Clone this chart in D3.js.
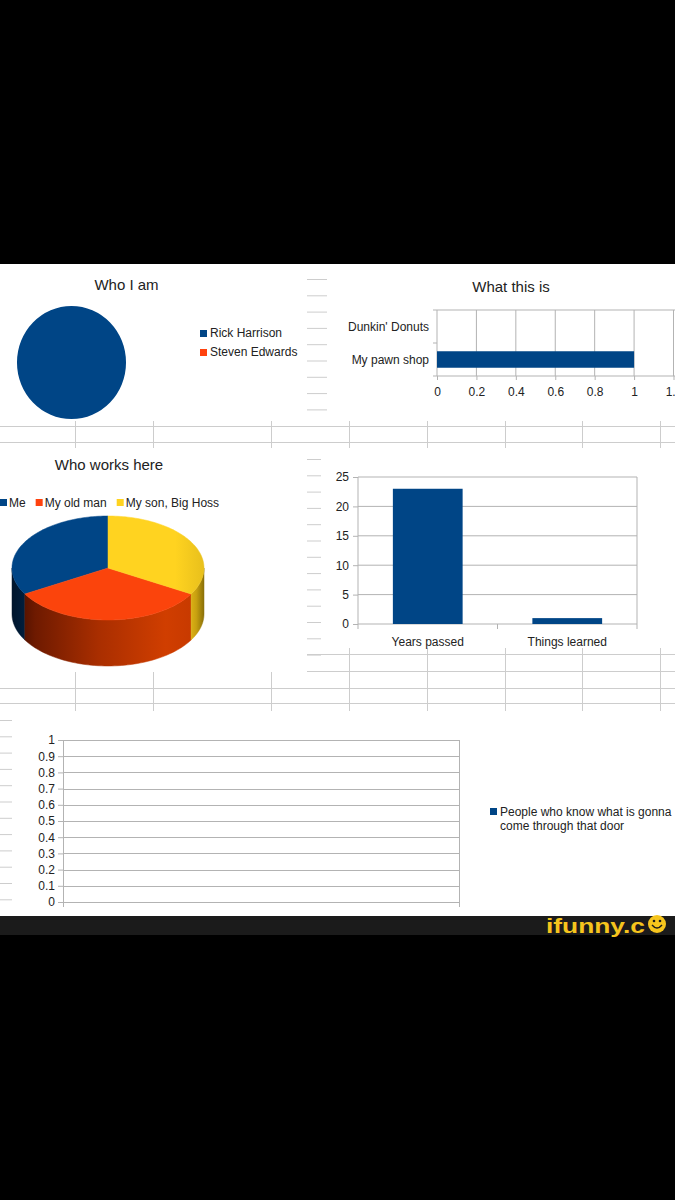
<!DOCTYPE html>
<html><head><meta charset="utf-8">
<script src="https://cdn.jsdelivr.net/npm/d3@7"></script>
<style>
body{margin:0;background:#000;}
svg{display:block;}
text{font-family:"Liberation Sans",Arial,sans-serif;fill:#222;}
</style>
</head><body>
<svg id="c" width="675" height="1200"></svg>
<script>
// ---------- data ----------
const whoTitle = "Who I am";
const whoCategories = ["Rick Harrison", "Steven Edwards"];
const whoValues = [1, 0];

const whatTitle = "What this is";
const whatCategories = ["Dunkin' Donuts", "My pawn shop"];
const whatValues = [0, 1];
const whatTicks = [0, 0.2, 0.4, 0.6, 0.8, 1, 1.2];

const worksTitle = "Who works here";
const worksCategories = ["Me", "My old man", "My son, Big Hoss"];
const worksValues = [1, 1, 1];

const barCategories = ["Years passed", "Things learned"];
const barValues = [23, 1];
const barTicks = [0, 5, 10, 15, 20, 25];

const doorSeries = ["People who know what is gonna come through that door"];
const doorValues = [];
const doorTicks = [0, 0.1, 0.2, 0.3, 0.4, 0.5, 0.6, 0.7, 0.8, 0.9, 1];

const palette = ["#004586", "#ff420e", "#ffd320"];

// ---------- setup ----------
const svg = d3.select("#c");
const W = 675;
const GRID = "#b3b3b3", SHEET = "#cdcdcd";
const fmt = d => d3.format("~g")(d);

svg.append("rect").attr("x",0).attr("y",0).attr("width",W).attr("height",1200).attr("fill","#000");
svg.append("rect").attr("x",0).attr("y",264).attr("width",W).attr("height",652).attr("fill","#fff");
svg.append("rect").attr("x",0).attr("y",916).attr("width",W).attr("height",19).attr("fill","#1b1b1b");

// ---------- spreadsheet background lines ----------
const sheet = svg.append("g").attr("stroke", SHEET).attr("stroke-width", 1).attr("fill","none");
function hline(y, x0, x1){ sheet.append("line").attr("x1",x0).attr("x2",x1).attr("y1",y+0.5).attr("y2",y+0.5); }
function vline(x, y0, y1){ sheet.append("line").attr("x1",x+0.5).attr("x2",x+0.5).attr("y1",y0).attr("y2",y1); }
[426, 442].forEach(y => hline(y, 0, W));
[75,153,271,349,427,505,582,660].forEach(x => vline(x, 421, 448));
[654, 671].forEach(y => hline(y, 307, W));
[688, 703].forEach(y => hline(y, 0, W));
[349,427,505,582,660].forEach(x => vline(x, 648, 711));
[75,153,271].forEach(x => vline(x, 672, 711));
d3.range(9).forEach(i => hline(279 + i*16.3, 307, 327));
d3.range(13).forEach(i => hline(459 + i*16.3, 307, 321));
d3.range(12).forEach(i => hline(720 + i*16.3, 0, 12));

// ---------- chart 1: Who I am ----------
svg.append("text").attr("x",126.5).attr("y",290).attr("text-anchor","middle")
  .attr("font-size",15).text(whoTitle);
const pie1 = d3.pie().sort(null)(whoValues);
const arc1 = d3.arc().innerRadius(0).outerRadius(54.5);
svg.append("g").attr("transform","translate(71.5,362.5) scale(1,1.037)")
  .selectAll("path").data(pie1).join("path")
  .attr("d", arc1).attr("fill", (d,i) => palette[i]);
const leg1 = svg.append("g");
whoCategories.forEach((c,i) => {
  leg1.append("rect").attr("x",200).attr("y",330+i*19).attr("width",7).attr("height",7).attr("fill",palette[i]);
  leg1.append("text").attr("x",210).attr("y",337+i*19).attr("font-size",12).text(c);
});

// ---------- chart 2: What this is ----------
svg.append("text").attr("x",511).attr("y",292).attr("text-anchor","middle")
  .attr("font-size",15).text(whatTitle);
const x2 = d3.scaleLinear().domain([0,1.2]).range([437,673.5]);
const y2 = d3.scaleBand().domain(whatCategories).range([310,376]);
const g2 = svg.append("g");
g2.append("g").selectAll("line").data(whatTicks).join("line")
  .attr("x1",d=>x2(d)).attr("x2",d=>x2(d)).attr("y1",310).attr("y2",376)
  .attr("stroke",GRID);
g2.append("line").attr("x1",437).attr("x2",W).attr("y1",310).attr("y2",310).attr("stroke",GRID);
g2.append("line").attr("x1",437).attr("x2",W).attr("y1",376).attr("y2",376).attr("stroke",GRID);
g2.selectAll("rect.bar").data(whatCategories).join("rect").attr("class","bar")
  .attr("x", x2(0)).attr("y", d => y2(d) + y2.bandwidth()*0.25)
  .attr("width", (d,i) => x2(whatValues[i]) - x2(0)).attr("height", y2.bandwidth()*0.5)
  .attr("fill", palette[0]);
const ax2 = g2.append("g").attr("transform","translate(0,376)")
  .call(d3.axisBottom(x2).tickValues(whatTicks).tickFormat(fmt).tickSize(4).tickPadding(7));
ax2.select(".domain").remove();
ax2.selectAll("line").attr("stroke",GRID);
ax2.selectAll("text").attr("font-size",12).attr("font-family",null).attr("fill","#222");
// category ticks and labels
[310, 310 + y2.bandwidth(), 376].forEach(y => g2.append("line").attr("x1",433).attr("x2",437).attr("y1",y).attr("y2",y).attr("stroke",GRID));
g2.selectAll("text.cat").data(whatCategories).join("text").attr("class","cat")
  .attr("x",429).attr("y", d => y2(d) + y2.bandwidth()/2).attr("dy","0.35em")
  .attr("text-anchor","end").attr("font-size",12).text(d => d);

// ---------- chart 3: Who works here (3D pie) ----------
svg.append("text").attr("x",109).attr("y",470).attr("text-anchor","middle")
  .attr("font-size",15).text(worksTitle);
const leg3 = svg.append("g");
let lx = 0;
worksCategories.forEach((c,i) => {
  leg3.append("rect").attr("x",lx).attr("y",499).attr("width",7).attr("height",7).attr("fill",palette[i]);
  const t = leg3.append("text").attr("x",lx+9).attr("y",507).attr("font-size",12).text(c);
  lx = lx + 9 + t.node().getComputedTextLength() + 10;
});

const defs = svg.append("defs");
function grad(id, stops){
  const g = defs.append("linearGradient").attr("id",id).attr("gradientUnits","userSpaceOnUse")
    .attr("x1",12).attr("x2",204).attr("y1",0).attr("y2",0);
  stops.forEach(s => g.append("stop").attr("offset",s[0]).attr("stop-color",s[1]));
}
grad("side0", [[0,"#00152c"],[0.1,"#002447"],[1,"#003a70"]]);
grad("side1", [[0,"#3d0c00"],[0.12,"#6e1a00"],[0.45,"#a92e00"],[0.8,"#d03e00"],[0.93,"#c83a00"],[1,"#9a2c00"]]);
grad("side2", [[0,"#b89a10"],[0.9,"#f0c418"],[0.96,"#c8a010"],[1,"#8a7008"]]);
grad("top2", [[0,"#ffd320"],[0.85,"#ffd320"],[1,"#e8c01c"]]);

const pcx = 108, pcy = 568, prx = 96, pry = 52, depth = 46;
const pie3 = d3.pie().sort(null).startAngle(0).endAngle(-2*Math.PI)(worksValues);
const pt = (a, dy) => [pcx + prx*Math.sin(a), pcy - pry*Math.cos(a) + (dy||0)];
const line = d3.line();
const g3 = svg.append("g");
// sides
pie3.forEach((d,i) => {
  const lo = Math.min(d.startAngle, d.endAngle), hi = Math.max(d.startAngle, d.endAngle);
  for (let k = -2; k <= 1; k++) {
    const s = Math.max(lo, Math.PI/2 + 2*Math.PI*k), e = Math.min(hi, 3*Math.PI/2 + 2*Math.PI*k);
    if (e - s > 1e-6) {
      const n = 60, angs = d3.range(n+1).map(j => s + (e-s)*j/n);
      const pts = angs.map(a => pt(a)).concat(angs.slice().reverse().map(a => pt(a, depth)));
      g3.append("path").attr("d", line(pts) + "Z").attr("fill", `url(#side${i})`)
        .attr("stroke", `url(#side${i})`).attr("stroke-width",0.5);
    }
  }
});
// top faces
pie3.forEach((d,i) => {
  const n = 80, angs = d3.range(n+1).map(j => d.startAngle + (d.endAngle-d.startAngle)*j/n);
  const pts = [[pcx,pcy]].concat(angs.map(a => pt(a)));
  g3.append("path").attr("d", line(pts) + "Z")
    .attr("fill", i === 2 ? "url(#top2)" : (i === 1 ? "#fb440c" : palette[i]))
    .attr("stroke", i === 2 ? "url(#top2)" : (i === 1 ? "#fb440c" : palette[i])).attr("stroke-width",0.5);
});

// ---------- chart 4: Years passed / Things learned ----------
const x4 = d3.scaleBand().domain(barCategories).range([358,637]);
const y4 = d3.scaleLinear().domain([0,25]).range([624,477]);
const g4 = svg.append("g");
g4.selectAll("line.grid").data(barTicks).join("line").attr("class","grid")
  .attr("x1",358).attr("x2",637).attr("y1",d=>y4(d)).attr("y2",d=>y4(d)).attr("stroke",GRID);
g4.append("line").attr("x1",358).attr("x2",358).attr("y1",477).attr("y2",624).attr("stroke",GRID);
g4.append("line").attr("x1",637).attr("x2",637).attr("y1",477).attr("y2",624).attr("stroke",GRID);
g4.selectAll("rect").data(barCategories).join("rect")
  .attr("x", d => x4(d) + x4.bandwidth()*0.25).attr("width", x4.bandwidth()*0.5)
  .attr("y", (d,i) => y4(barValues[i])).attr("height", (d,i) => y4(0) - y4(barValues[i]))
  .attr("fill", palette[0]);
const ay4 = g4.append("g").attr("transform","translate(358,0)")
  .call(d3.axisLeft(y4).tickValues(barTicks).tickSize(5).tickPadding(4));
ay4.select(".domain").remove();
ay4.selectAll("line").attr("stroke",GRID);
ay4.selectAll("text").attr("font-size",12).attr("font-family",null).attr("fill","#222");
[358, 358 + x4.bandwidth(), 637].forEach(x => g4.append("line").attr("x1",x).attr("x2",x).attr("y1",624).attr("y2",629).attr("stroke",GRID));
g4.selectAll("text.cat").data(barCategories).join("text").attr("class","cat")
  .attr("x", d => x4(d) + x4.bandwidth()/2).attr("y",646).attr("text-anchor","middle")
  .attr("font-size",12).text(d => d);

// ---------- chart 5: empty chart ----------
const x5 = d3.scaleLinear().domain([0,1]).range([63,459]);
const y5 = d3.scaleLinear().domain([0,1]).range([902,740]);
const g5 = svg.append("g");
g5.selectAll("line.grid").data(doorTicks).join("line").attr("class","grid")
  .attr("x1",x5(0)).attr("x2",x5(1)).attr("y1",d=>Math.round(y5(d))+0.5).attr("y2",d=>Math.round(y5(d))+0.5).attr("stroke",GRID);
g5.append("line").attr("x1",x5(0)+0.5).attr("x2",x5(0)+0.5).attr("y1",740).attr("y2",902).attr("stroke",GRID);
g5.append("line").attr("x1",x5(1)+0.5).attr("x2",x5(1)+0.5).attr("y1",740).attr("y2",902).attr("stroke",GRID);
const ay5 = g5.append("g").attr("transform","translate(63,0)")
  .call(d3.axisLeft(y5).tickValues(doorTicks).tickFormat(fmt).tickSize(5).tickPadding(3));
ay5.select(".domain").remove();
ay5.selectAll("line").attr("stroke",GRID);
ay5.selectAll("text").attr("font-size",12).attr("font-family",null).attr("fill","#222");
[x5(0), x5(1)].forEach(x => g5.append("line").attr("x1",x+0.5).attr("x2",x+0.5).attr("y1",902).attr("y2",907).attr("stroke",GRID));
g5.selectAll("circle").data(doorValues).join("circle");
// legend with wrapping
const leg5 = svg.append("g");
doorSeries.forEach((s,i) => {
  leg5.append("rect").attr("x",490).attr("y",808).attr("width",7).attr("height",7).attr("fill",palette[i]);
  const words = s.split(" "); const lines = []; let cur = "";
  const probe = leg5.append("text").attr("font-size",12);
  words.forEach(w => {
    const test = cur ? cur + " " + w : w;
    probe.text(test);
    if (probe.node().getComputedTextLength() > 172 && cur) { lines.push(cur); cur = w; } else cur = test;
  });
  lines.push(cur); probe.remove();
  lines.forEach((l,j) => leg5.append("text").attr("x",500).attr("y",816 + j*14).attr("font-size",12).text(l));
});

// ---------- watermark ----------
const wm = svg.append("g");
wm.append("text").attr("x",546).attr("y",933).attr("font-size",21).attr("font-weight","bold")
  .attr("font-family","'DejaVu Sans',sans-serif").style("fill","#f6c51d")
  .attr("textLength",99).attr("lengthAdjust","spacingAndGlyphs").text("ifunny.c");
wm.append("circle").attr("cx",657).attr("cy",924).attr("r",9).attr("fill","#f6c51d");
wm.append("circle").attr("cx",654).attr("cy",921).attr("r",1.3).attr("fill","#1b1b1b");
wm.append("circle").attr("cx",660).attr("cy",921).attr("r",1.3).attr("fill","#1b1b1b");
wm.append("path").attr("d","M652,925 Q657,931 662,925").attr("fill","none").attr("stroke","#1b1b1b").attr("stroke-width",1.4);
</script>
</body></html>
